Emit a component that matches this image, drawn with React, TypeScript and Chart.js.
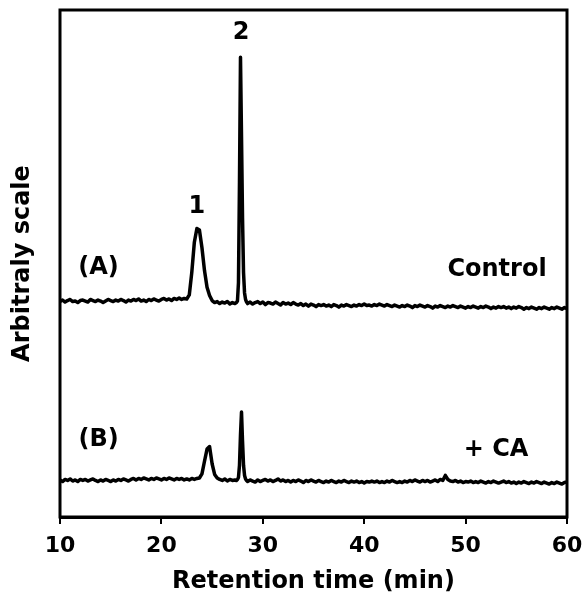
import React, { useEffect, useRef } from "react";
import { Chart, registerables } from "chart.js";

Chart.register(...registerables);

// Retention time (min) — shared sampling grid of both traces
const retentionTime: number[] = [
  10.0, 10.25, 10.5, 10.75, 11.0, 11.25, 11.5, 11.75, 12.0, 12.25,
  12.5, 12.75, 13.0, 13.25, 13.5, 13.75, 14.0, 14.25, 14.5, 14.75,
  15.0, 15.25, 15.5, 15.75, 16.0, 16.25, 16.5, 16.75, 17.0, 17.25,
  17.5, 17.75, 18.0, 18.25, 18.5, 18.75, 19.0, 19.25, 19.5, 19.75,
  20.0, 20.25, 20.5, 20.75, 21.0, 21.25, 21.5, 21.75, 22.0, 22.25,
  22.5, 22.75, 23.0, 23.25, 23.5, 23.75, 24.0, 24.25, 24.5, 24.75,
  25.0, 25.25, 25.5, 25.75, 26.0, 26.25, 26.5, 26.75, 27.0, 27.25,
  27.4, 27.5, 27.6, 27.7, 27.8, 27.9, 28.0, 28.1, 28.2, 28.3, 28.4,
  28.5, 28.75, 29.0, 29.25, 29.5, 29.75, 30.0, 30.25, 30.5, 30.75,
  31.0, 31.25, 31.5, 31.75, 32.0, 32.25, 32.5, 32.75, 33.0, 33.25,
  33.5, 33.75, 34.0, 34.25, 34.5, 34.75, 35.0, 35.25, 35.5, 35.75,
  36.0, 36.25, 36.5, 36.75, 37.0, 37.25, 37.5, 37.75, 38.0, 38.25,
  38.5, 38.75, 39.0, 39.25, 39.5, 39.75, 40.0, 40.25, 40.5, 40.75,
  41.0, 41.25, 41.5, 41.75, 42.0, 42.25, 42.5, 42.75, 43.0, 43.25,
  43.5, 43.75, 44.0, 44.25, 44.5, 44.75, 45.0, 45.25, 45.5, 45.75,
  46.0, 46.25, 46.5, 46.75, 47.0, 47.25, 47.5, 47.75, 48.0, 48.25,
  48.5, 48.75, 49.0, 49.25, 49.5, 49.75, 50.0, 50.25, 50.5, 50.75,
  51.0, 51.25, 51.5, 51.75, 52.0, 52.25, 52.5, 52.75, 53.0, 53.25,
  53.5, 53.75, 54.0, 54.25, 54.5, 54.75, 55.0, 55.25, 55.5, 55.75,
  56.0, 56.25, 56.5, 56.75, 57.0, 57.25, 57.5, 57.75, 58.0, 58.25,
  58.5, 58.75, 59.0, 59.25, 59.5, 59.75, 60.0,
];

// (A) Control trace, arbitrary units
const controlSignal: number[] = [
  42.5, 42.8, 42.4, 42.7, 42.9, 42.5, 42.6, 42.3, 42.7, 42.8,
  42.6, 42.4, 42.9, 42.7, 42.5, 42.8, 42.6, 42.3, 42.6, 42.9,
  42.7, 42.5, 42.8, 42.6, 42.9, 42.7, 42.4, 42.8, 42.6, 42.9,
  42.7, 43.0, 42.6, 42.8, 42.5, 42.9, 42.7, 43.0, 42.8, 42.6,
  42.9, 43.1, 42.8, 43.0, 42.7, 43.1, 42.9, 43.2, 42.9, 43.1,
  43.0, 43.8, 48.3, 54.2, 56.9, 56.6, 53.1, 48.6, 45.3, 43.7,
  42.7, 42.3, 42.5, 42.1, 42.4, 42.2, 42.5, 42.0, 42.3, 42.1,
  42.3, 42.6, 46.2, 66.0, 90.7, 75.0, 59.0, 48.2, 44.2, 42.9, 42.4,
  42.1, 42.4, 42.0, 42.3, 42.5, 42.1, 42.4, 41.9, 42.3, 42.2,
  42.0, 42.4, 42.1, 41.8, 42.3, 42.0, 42.2, 41.9, 42.3, 42.0,
  41.8, 42.1, 41.7, 42.0, 41.6, 42.0, 41.8, 41.5, 41.9, 41.7,
  41.9, 41.6, 41.8, 41.5, 41.9, 41.7, 41.4, 41.8, 41.6, 41.9,
  41.7, 41.5, 41.8, 41.6, 41.9, 41.7, 42.0, 41.7, 41.8, 41.6,
  41.9, 41.7, 42.0, 41.8, 41.6, 41.9, 41.7, 41.5, 41.8, 41.6,
  41.4, 41.7, 41.5, 41.8, 41.6, 41.3, 41.7, 41.5, 41.8, 41.6,
  41.4, 41.7, 41.5, 41.2, 41.6, 41.4, 41.7, 41.5, 41.3, 41.6,
  41.4, 41.7, 41.5, 41.3, 41.6, 41.4, 41.2, 41.5, 41.3, 41.6,
  41.4, 41.2, 41.5, 41.3, 41.6, 41.4, 41.1, 41.4, 41.2, 41.5,
  41.3, 41.5, 41.2, 41.4, 41.1, 41.4, 41.2, 41.5, 41.3, 41.0,
  41.3, 41.1, 41.4, 41.2, 41.0, 41.3, 41.1, 41.4, 41.2, 41.0,
  41.3, 41.1, 41.4, 41.2, 41.0, 41.3, 41.1,
];

// (B) + CA trace, arbitrary units
const caSignal: number[] = [
  7.3, 7.0, 7.4, 7.2, 7.5, 7.1, 7.3, 7.0, 7.4, 7.2,
  7.4, 7.1, 7.3, 7.5, 7.2, 7.0, 7.3, 7.1, 7.4, 7.2,
  7.0, 7.3, 7.1, 7.4, 7.2, 7.5, 7.3, 7.1, 7.4, 7.6,
  7.3, 7.6, 7.4, 7.7, 7.5, 7.3, 7.6, 7.4, 7.7, 7.5,
  7.3, 7.6, 7.4, 7.7, 7.5, 7.3, 7.6, 7.4, 7.6, 7.3,
  7.5, 7.3, 7.6, 7.4, 7.6, 7.7, 8.5, 11.0, 13.4, 13.9,
  10.5, 8.4, 7.7, 7.4, 7.2, 7.5, 7.1, 7.4, 7.2, 7.3,
  7.2, 7.4, 7.8, 10.2, 16.2, 20.7, 15.0, 10.2, 8.2, 7.5, 7.2,
  7.0, 7.3, 7.1, 6.9, 7.3, 7.0, 7.2, 7.4, 7.1, 7.3,
  7.0, 7.2, 7.5, 7.1, 7.3, 7.0, 7.2, 6.9, 7.2, 7.0,
  7.3, 7.1, 6.8, 7.2, 7.0, 7.3, 7.1, 6.9, 7.2, 7.0,
  6.8, 7.1, 6.9, 7.2, 7.0, 6.8, 7.1, 6.9, 7.2, 7.0,
  6.8, 7.1, 6.9, 7.1, 6.8, 7.0, 6.7, 7.0, 6.9, 7.1,
  6.9, 7.1, 6.8, 7.0, 6.8, 7.1, 6.9, 7.2, 7.0, 6.8,
  7.0, 6.8, 7.1, 6.9, 7.2, 7.0, 7.3, 7.1, 6.9, 7.2,
  7.0, 7.2, 6.9, 7.1, 7.3, 7.0, 7.4, 7.2, 8.2, 7.4,
  7.1, 7.0, 7.2, 6.9, 7.1, 6.8, 7.0, 6.9, 7.1, 6.8,
  7.0, 6.8, 7.1, 6.9, 6.7, 7.0, 6.8, 7.1, 6.9, 6.7,
  6.9, 7.1, 6.8, 7.0, 6.7, 6.9, 6.6, 6.9, 6.7, 7.0,
  6.8, 6.6, 6.9, 6.7, 7.0, 6.8, 6.6, 6.9, 6.7, 6.5,
  6.8, 6.6, 6.9, 6.7, 6.5, 6.8, 6.9,
];

const xTicks: number[] = [10, 20, 30, 40, 50, 60];

// In-plot text labels (data coordinates)
const noteTexts: string[] = ["2", "1", "(A)", "Control", "(B)", "+ CA"];
const noteTimes: number[] = [27.85, 23.5, 13.8, 53.1, 13.8, 53.0];
const noteValues: number[] = [95.5, 61.1, 49.1, 48.7, 15.2, 13.2];

const FONT = '"DejaVu Sans", Verdana, sans-serif';

export default function App() {
  const ref = useRef<HTMLCanvasElement | null>(null);

  useEffect(() => {
    if (!ref.current) return;

    const framePlugin = {
      id: "frameAndNotes",
      afterDatasetsDraw(chart: any) {
        const { ctx, chartArea, scales } = chart;
        ctx.save();
        ctx.strokeStyle = "#000";
        ctx.lineWidth = 3;
        ctx.strokeRect(
          chartArea.left,
          chartArea.top,
          chartArea.right - chartArea.left,
          chartArea.bottom - chartArea.top
        );
        ctx.fillStyle = "#000";
        ctx.font = `bold 24px ${FONT}`;
        ctx.textAlign = "center";
        ctx.textBaseline = "middle";
        noteTexts.forEach((t, i) => {
          ctx.fillText(
            t,
            scales.x.getPixelForValue(noteTimes[i]),
            scales.y.getPixelForValue(noteValues[i])
          );
        });
        ctx.restore();
      },
    };

    const lineStyle = {
      borderColor: "#000",
      borderWidth: 3.5,
      pointRadius: 0,
      tension: 0,
      borderJoinStyle: "round",
      fill: false,
    };

    const chart = new Chart(ref.current, {
      type: "line",
      data: {
        datasets: [
          {
            label: "Control",
            data: retentionTime.map((t, i) => ({ x: t, y: controlSignal[i] })),
            ...lineStyle,
          },
          {
            label: "+ CA",
            data: retentionTime.map((t, i) => ({ x: t, y: caSignal[i] })),
            ...lineStyle,
          },
        ],
      },
      options: {
        animation: false,
        responsive: false,
        maintainAspectRatio: false,
        layout: { padding: { top: 10, right: 17, left: 0, bottom: 0 } },
        plugins: {
          legend: { display: false },
          tooltip: { enabled: false },
          title: { display: false },
        },
        scales: {
          x: {
            type: "linear",
            min: 10,
            max: 60,
            afterBuildTicks: (scale: any) => {
              scale.ticks = xTicks.map((v) => ({ value: v }));
            },
            afterFit: (scale: any) => {
              scale.height = 79;
              scale.paddingLeft = 0;
              scale.paddingRight = 0;
            },
            ticks: {
              color: "#000",
              font: { family: FONT, size: 22, weight: "bold" },
              padding: 9,
              maxRotation: 0,
            },
            grid: {
              display: true,
              drawOnChartArea: false,
              drawTicks: true,
              tickLength: 7,
              color: "#000",
              lineWidth: 2,
            },
            border: { display: true, color: "#000", width: 3 },
            title: {
              display: true,
              text: "Retention time (min)",
              color: "#000",
              font: { family: FONT, size: 24, weight: "bold" },
              padding: { top: 0, bottom: 0 },
            },
          },
          y: {
            type: "linear",
            min: 0,
            max: 100,
            afterFit: (scale: any) => {
              scale.width = 60;
            },
            ticks: { display: false },
            grid: { display: false, drawTicks: false },
            border: { display: false },
            title: {
              display: true,
              text: "Arbitraly scale",
              color: "#000",
              font: { family: FONT, size: 24, weight: "bold" },
              padding: { top: 8, bottom: 0 },
            },
          },
        },
      },
      plugins: [framePlugin],
    } as any);

    return () => chart.destroy();
  }, []);

  return (
    <div style={{ position: "absolute", left: 0, top: 0, width: 584, height: 596, background: "#fff" }}>
      <canvas ref={ref} width={584} height={596} style={{ display: "block", width: 584, height: 596 }} />
    </div>
  );
}
